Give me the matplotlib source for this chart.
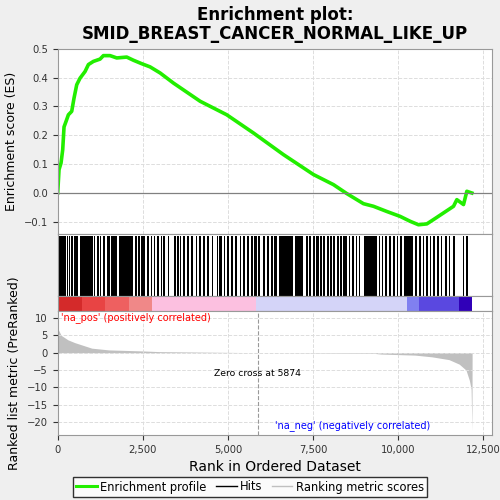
import numpy as np
import matplotlib
matplotlib.use("Agg")
import matplotlib.pyplot as plt
from matplotlib.ticker import FuncFormatter

# running enrichment score (rank, ES)
es_rank = [0, 39, 98, 147, 186, 245, 314, 412, 480, 559, 657, 804, 902, 1049, 1245, 1343,
           1539, 1735, 2029, 2225, 2470, 2715, 3009, 3401, 4185, 4969, 5753, 6635, 7517,
           8105, 8497, 8987, 9281, 9673, 10065, 10359, 10604, 10849, 11045, 11339, 11633,
           11731, 11927, 12025, 12172]
es_value = [0.0, 0.081, 0.104, 0.150, 0.229, 0.248, 0.271, 0.283, 0.329, 0.375, 0.398, 0.421,
            0.445, 0.456, 0.464, 0.476, 0.476, 0.468, 0.471, 0.460, 0.448, 0.437, 0.416, 0.381,
            0.318, 0.271, 0.208, 0.133, 0.064, 0.029, -0.002, -0.037, -0.046, -0.064, -0.081,
            -0.098, -0.110, -0.107, -0.092, -0.069, -0.046, -0.023, -0.040, 0.006, 0.0]

# hit spans (start rank, end rank)
hit_start = [0, 263, 332, 390, 479, 655, 1067, 1145, 1243, 1321, 1459, 1576, 1811, 2262, 2360,
             2458, 2615, 2733, 2831, 2909, 3027, 3086, 3242, 3419, 3517, 3595, 3674, 3811, 3909,
             4066, 4164, 4281, 4379, 4536, 4673, 4751, 4889, 4987, 5104, 5222, 5359, 5437, 5555,
             5673, 5771, 5888, 6025, 6143, 6261, 6359, 6515, 6986, 7299, 7397, 7495, 7593, 7711,
             7809, 7907, 8005, 8103, 8201, 8299, 8397, 8554, 8652, 8770, 8848, 9005, 9436, 9534,
             9632, 9750, 9867, 9965, 10063, 10181, 10514, 10632, 10730, 10828, 10945, 11043,
             11141, 11259, 11377, 11495, 11632, 11907, 12005]
hit_end = [234, 292, 361, 440, 606, 1027, 1106, 1204, 1282, 1400, 1537, 1733, 2223, 2321, 2419,
           2576, 2693, 2772, 2870, 2968, 3066, 3144, 3262, 3478, 3556, 3634, 3752, 3850, 3987,
           4105, 4223, 4320, 4457, 4575, 4693, 4830, 4928, 5026, 5163, 5281, 5398, 5496, 5614,
           5731, 5849, 5947, 6084, 6202, 6320, 6437, 6927, 7221, 7358, 7456, 7554, 7672, 7770,
           7868, 7966, 8064, 8162, 8260, 8358, 8495, 8593, 8711, 8789, 8887, 9377, 9475, 9573,
           9691, 9789, 9906, 10004, 10122, 10455, 10573, 10671, 10769, 10887, 10984, 11082,
           11200, 11298, 11436, 11534, 11671, 11946, 12064]

# ranked list metric (rank, value)
metric_rank = [0, 100, 300, 500, 1000, 1500, 2500, 3000, 5874, 9300, 9500, 10500, 11000, 11500,
               11800, 12000, 12100, 12150, 12175, 12180]
metric_value = [7.0, 5.0, 3.7, 2.9, 1.3, 0.8, 0.5, 0.3, 0.0, -0.2, -0.4, -0.7, -1.2, -2.0,
                -3.3, -5.0, -8.0, -10.5, -22.5, 0.0]

# colour bar bands
band_edges = [0, 700, 1400, 2100, 2780, 5830, 10280, 10630, 11800, 12180]
band_colors = ['#d42a2a', '#e84444', '#ee6060', '#f08888', '#fcc0e0', '#d4d4f8',
               '#8080f0', '#5a48e0', '#3000b8']

n_genes = 12180
zero_cross = 5874
xmax = 12770

fig = plt.figure(figsize=(5, 5), dpi=100, facecolor='#efefef')

fmt = FuncFormatter(lambda v, p: '{:,.0f}'.format(v))
xt = [0, 2500, 5000, 7500, 10000, 12500]

ax1 = fig.add_axes([0.1154, 0.532, 0.869, 0.3706])
ax1.plot(es_rank, es_value, color='#22ee00', lw=2.6)
ax1.axhline(0, color='#808080', lw=0.9)
ax1.set_xlim(0, xmax)
ax1.set_ylim(-0.142, 0.5)
ax1.set_yticks([-0.1, 0.0, 0.1, 0.2, 0.3, 0.4, 0.5])
ax1.set_xticks(xt)
ax1.set_xticklabels([])
ax1.tick_params(axis='x', length=0)
ax1.grid(True, ls='--', color='#dddddd', lw=0.7)
ax1.set_ylabel('Enrichment score (ES)', fontsize=9)
ax1.set_title('Enrichment plot:\nSMID_BREAST_CANCER_NORMAL_LIKE_UP', fontsize=12,
              fontweight='bold', pad=7, linespacing=1.05)

ax2 = fig.add_axes([0.1154, 0.408, 0.869, 0.124])
ax2.broken_barh([(s, max(e - s, 25)) for s, e in zip(hit_start, hit_end)], (0, 1),
                facecolors='black')
ax2.set_xlim(0, xmax)
ax2.set_ylim(0, 1.04)
ax2.set_xticks([])
ax2.set_yticks([])

ax3 = fig.add_axes([0.1154, 0.378, 0.869, 0.030])
for i, c in enumerate(band_colors):
    ax3.axvspan(band_edges[i], band_edges[i + 1], color=c, lw=0)
ax3.set_xlim(0, xmax)
ax3.set_ylim(0, 1)
ax3.set_xticks([])
ax3.set_yticks([])

ax4 = fig.add_axes([0.1154, 0.130, 0.869, 0.248])
ax4.fill_between(metric_rank, metric_value, 0, color='#c0c0c0', lw=0)
ax4.axvline(zero_cross, color='#999999', ls='--', lw=0.8)
ax4.set_xlim(0, xmax)
ax4.set_ylim(-23.7, 12)
ax4.set_yticks([10, 5, 0, -5, -10, -15, -20])
ax4.set_xticks(xt)
ax4.xaxis.set_major_formatter(fmt)
ax4.grid(True, ls='--', color='#dddddd', lw=0.7)
ax4.set_ylabel('Ranked list metric (PreRanked)', fontsize=9)
ax4.set_xlabel('Rank in Ordered Dataset', fontsize=10)
ax4.text(100, 10, "'na_pos' (positively correlated)", color='red', fontsize=7, va='center')
ax4.text(6400, -21, "'na_neg' (negatively correlated)", color='blue', fontsize=7, va='center')
ax4.text(zero_cross, -6, 'Zero cross at %d' % zero_cross, fontsize=6.7, ha='center', va='center')

for ax in (ax1, ax2, ax3, ax4):
    ax.tick_params(labelsize=7.2, colors='#333333')
    for s in ax.spines.values():
        s.set_color('#999999')

h1, = ax1.plot([], [], color='#22ee00', lw=2.2, label='Enrichment profile')
h2, = ax1.plot([], [], color='black', lw=1, label='Hits')
h3, = ax1.plot([], [], color='#c0c0c0', lw=1, label='Ranking metric scores')
fig.legend(handles=[h1, h2, h3], loc='center', bbox_to_anchor=(0.5, 0.026), ncol=3,
           fontsize=8.3, frameon=True, fancybox=False, edgecolor='black',
           handlelength=1.8, columnspacing=0.8, handletextpad=0.3, borderpad=0.3)

fig.savefig('out.png', dpi=100, facecolor=fig.get_facecolor())
